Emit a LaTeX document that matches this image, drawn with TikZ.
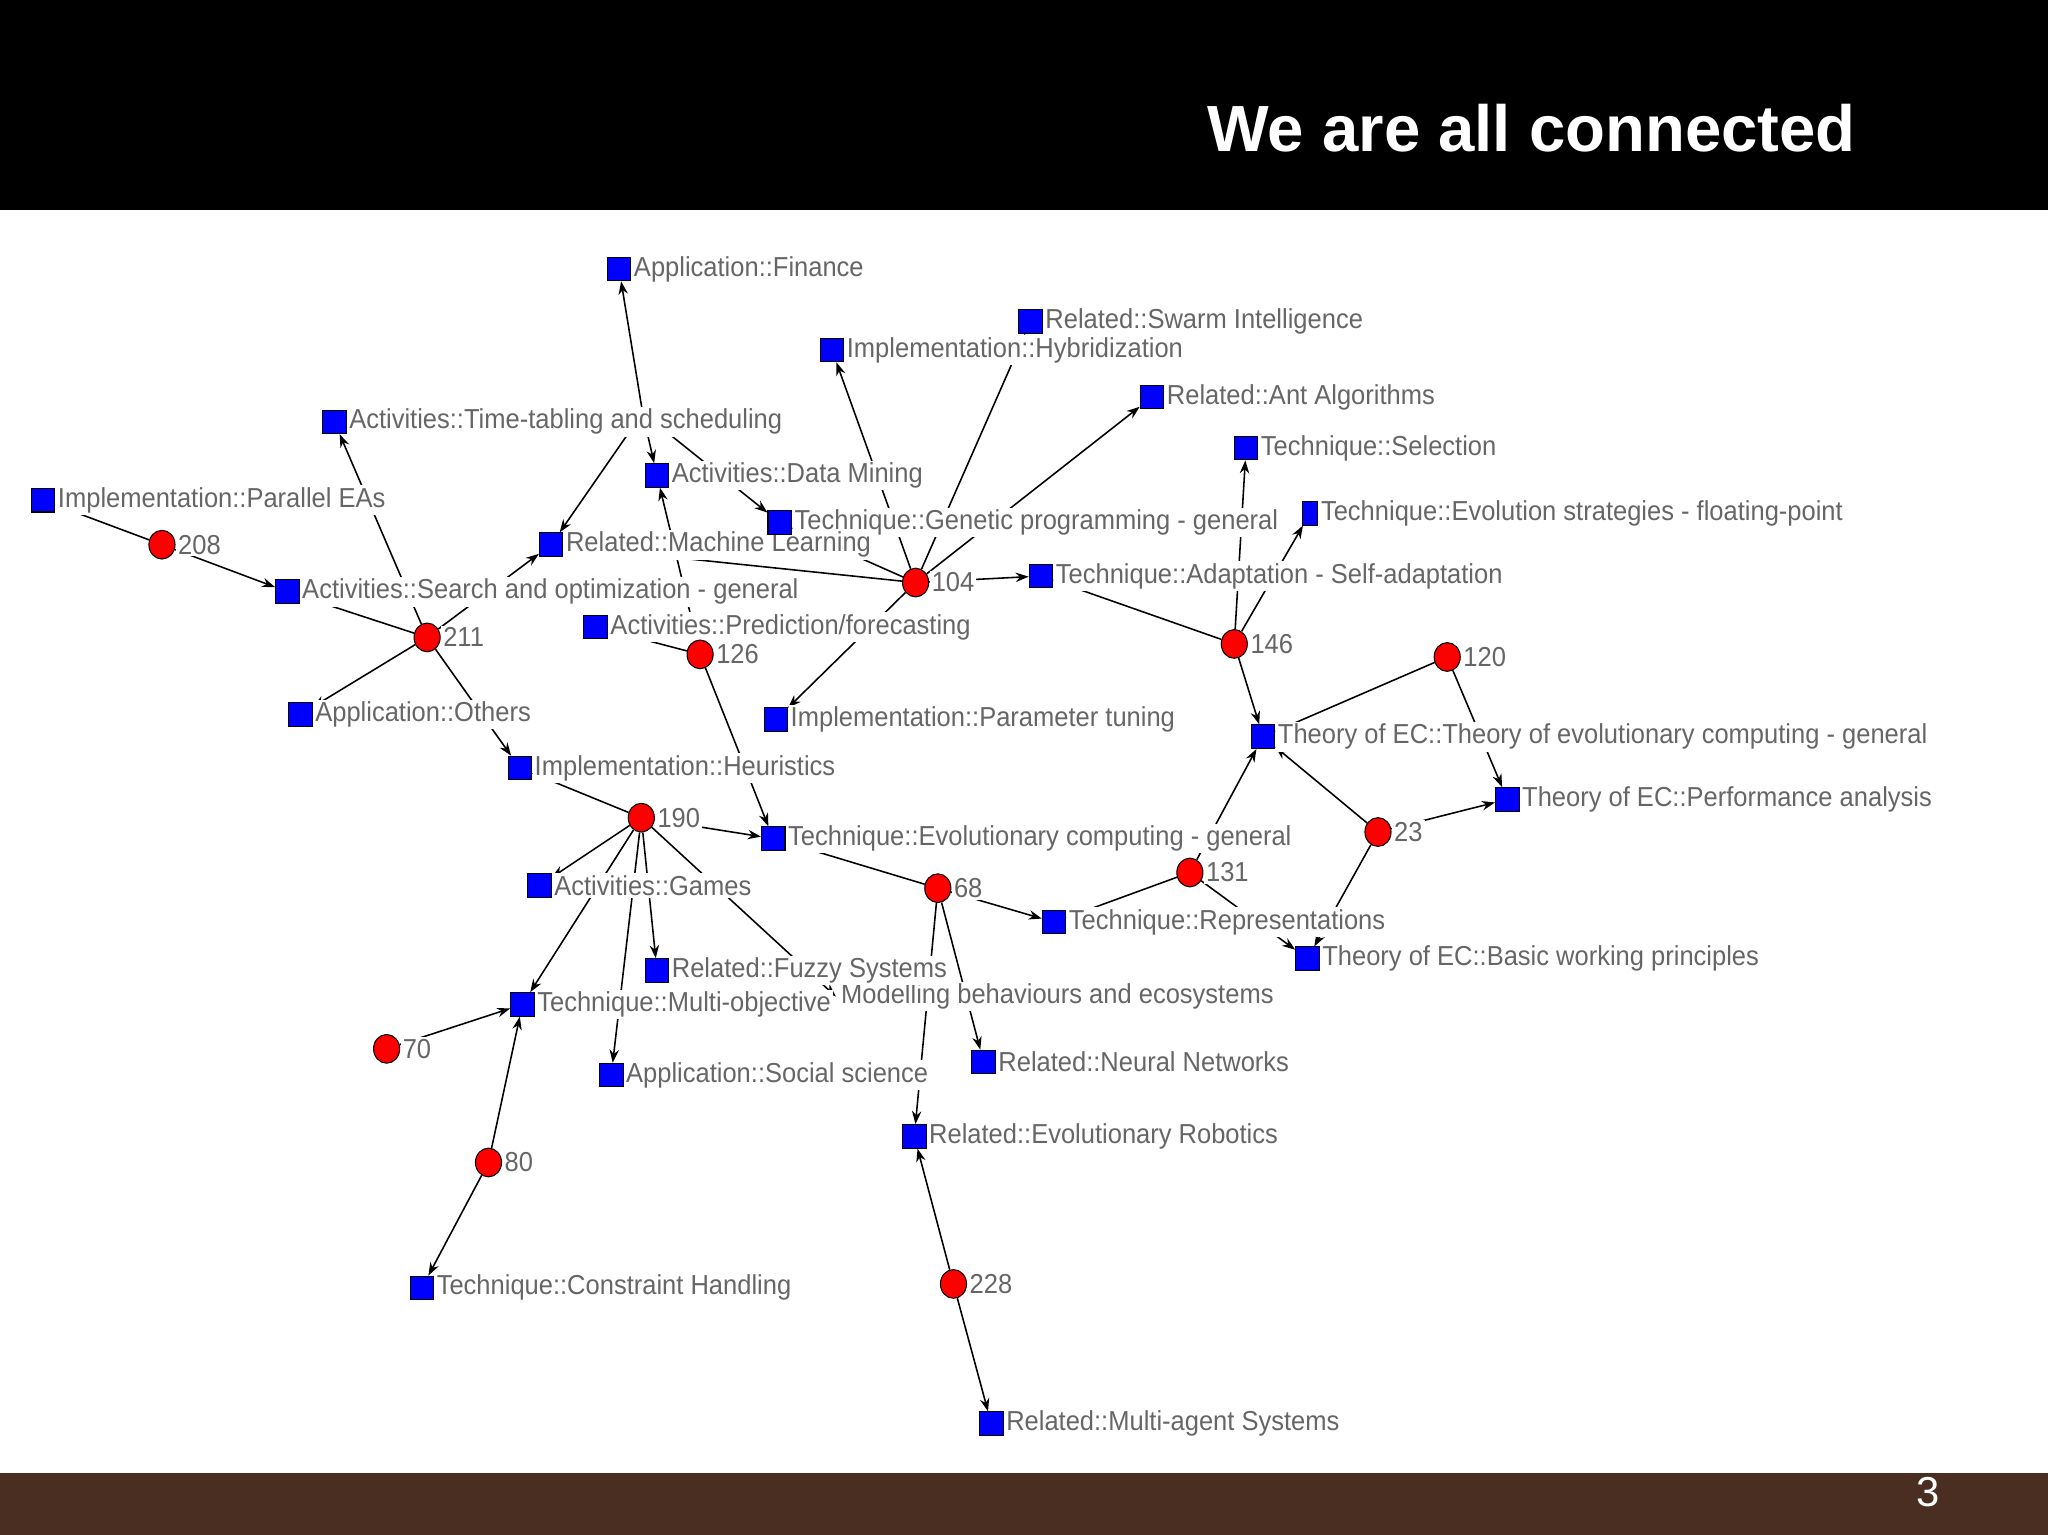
\documentclass[tikz,border=0pt]{standalone}
\usepackage{fontspec}
\setmainfont{Liberation Sans}
\newfontfamily\labfont[FakeStretch=0.93]{Liberation Sans}
\usetikzlibrary{arrows.meta,shapes.geometric}
\pgfdeclarelayer{bg}\pgfdeclarelayer{lab}
\pgfsetlayers{bg,lab,main}
\definecolor{labgray}{HTML}{666666}
\definecolor{bandbrown}{HTML}{4A2E22}
\tikzset{
  x=0.5pt,y=-0.5pt,
  sq/.style={draw=black,fill=blue,minimum size=9pt,inner sep=0pt,line width=0.4pt},
  doc/.style={draw=black,fill=red,ellipse,minimum width=10pt,minimum height=11pt,inner sep=0pt,line width=0.4pt},
  lab/.style={anchor=west,fill=white,inner sep=0.8pt,text=labgray,font=\labfont\fontsize{10.5}{12}\selectfont},
  edge/.style={line width=0.6pt,-{Stealth[length=5pt,width=3.6pt]}},
}
\begin{document}
\begin{tikzpicture}
\useasboundingbox (0,0) rectangle (1568,1175);
\begin{pgfonlayer}{bg}
\fill[white] (0,0) rectangle (1568,1175);
\fill[black] (0,0) rectangle (1568,161);
\fill[bandbrown] (0,1128) rectangle (1568,1175);
\end{pgfonlayer}
\node[anchor=east,text=white,font=\bfseries\fontsize{25}{30}\selectfont] (title) at (1428,98) {We are all connected};
\node[text=white,font=\fontsize{16}{18}\selectfont] (pg) at (1476,1142) {3};
% squares
\node[sq] (fin) at (474,206) {};
\node[sq] (swarm) at (789,246) {};
\node[sq] (hyb) at (637,268) {};
\node[sq] (ant) at (882,304) {};
\node[sq] (tt) at (256,323) {};
\node[sq] (sel) at (954,343) {};
\node[sq] (dm) at (503,364) {};
\node[sq] (par) at (33,383) {};
\node[sq,minimum width=6pt] (es) at (1003,393) {};
\node[sq] (gp) at (597,400) {};
\node[sq] (ml) at (422,417) {};
\node[sq] (ada) at (797,441) {};
\node[sq] (search) at (220,453) {};
\node[sq] (pred) at (456,480) {};
\node[sq] (oth) at (230,547) {};
\node[sq] (pt) at (594,551) {};
\node[sq] (theo) at (967,564) {};
\node[sq] (heu) at (398,588) {};
\node[sq] (perf) at (1154,612) {};
\node[sq] (ec) at (592,642) {};
\node[sq] (games) at (413,678) {};
\node[sq] (rep) at (807,706) {};
\node[sq] (basic) at (1001,734) {};
\node[sq] (fuzzy) at (503,743) {};
\node[sq] (mo) at (400,769) {};
\node[sq] (nn) at (753,813) {};
\node[sq] (soc) at (468,823) {};
\node[sq] (robo) at (700,870) {};
\node[sq] (ch) at (323,986) {};
\node[sq] (mas) at (759,1090) {};
\coordinate (mod) at (640,763);
\coordinate (hub) at (492,316);
% documents
\node[doc] (d208) at (124,417) {};
\node[doc] (d211) at (327,488) {};
\node[doc] (d126) at (536,501) {};
\node[doc] (d104) at (701,446) {};
\node[doc] (d146) at (945,493) {};
\node[doc] (d120) at (1108,503) {};
\node[doc] (d23) at (1055,637) {};
\node[doc] (d190) at (491,626) {};
\node[doc] (d68) at (718,680) {};
\node[doc] (d131) at (911,668) {};
\node[doc] (d70) at (296,803) {};
\node[doc] (d80) at (374,890) {};
\node[doc] (d228) at (730,983) {};
% labels
\begin{pgfonlayer}{lab}
\node[lab] (modlab) at ([xshift=1pt]mod) {Modelling behaviours and ecosystems};
\foreach \n/\t in {fin/Application::Finance, swarm/Related::Swarm Intelligence, hyb/Implementation::Hybridization, ant/Related::Ant Algorithms, tt/Activities::Time-tabling and scheduling, sel/Technique::Selection, dm/Activities::Data Mining, par/Implementation::Parallel EAs, es/Technique::Evolution strategies - floating-point, gp/Technique::Genetic programming - general, ml/Related::Machine Learning, ada/Technique::Adaptation - Self-adaptation, search/Activities::Search and optimization - general, pred/Activities::Prediction\slash forecasting, oth/Application::Others, pt/Implementation::Parameter tuning, theo/Theory of EC::Theory of evolutionary computing - general, heu/Implementation::Heuristics, perf/Theory of EC::Performance analysis, ec/Technique::Evolutionary computing - general, games/Activities::Games, rep/Technique::Representations, basic/Theory of EC::Basic working principles, fuzzy/Related::Fuzzy Systems, mo/Technique::Multi-objective, nn/Related::Neural Networks, soc/Application::Social science, robo/Related::Evolutionary Robotics, ch/Technique::Constraint Handling, mas/Related::Multi-agent Systems}
  \node[lab] (\n-l) at (\n.east) {\t};
\foreach \n/\t in {d208/208,d211/211,d126/126,d104/104,d146/146,d120/120,d23/23,d190/190,d68/68,d131/131,d70/70,d80/80,d228/228}
  \node[lab] (\n-l) at (\n.east) {\t};
\end{pgfonlayer}
% edges
\begin{pgfonlayer}{bg}
\foreach \a/\b in {d208/par,d208/search,d211/search,d211/tt,d211/oth,d211/heu,d211/ml,
  hub/fin,hub/ml,hub/dm,hub/gp,d126/dm,d126/pred,d126/ec,
  d104/hyb,d104/swarm,d104/ant,d104/ada,d104/pt,d104/ml,d104/gp,
  d146/ada,d146/sel,d146/es,d146/theo,d120/theo,d120/perf,d23/theo,d23/perf,d23/basic,
  d131/theo,d131/rep,d131/basic,d68/ec,d68/rep,d68/nn,d68/robo,
  d190/heu,d190/ec,d190/games,d190/mo,d190/fuzzy,d190/soc,d190/mod,
  d70/mo,d80/mo,d80/ch,d228/robo,d228/mas}
  \draw[edge] (\a) -- (\b);
\end{pgfonlayer}
\end{tikzpicture}
\end{document}
